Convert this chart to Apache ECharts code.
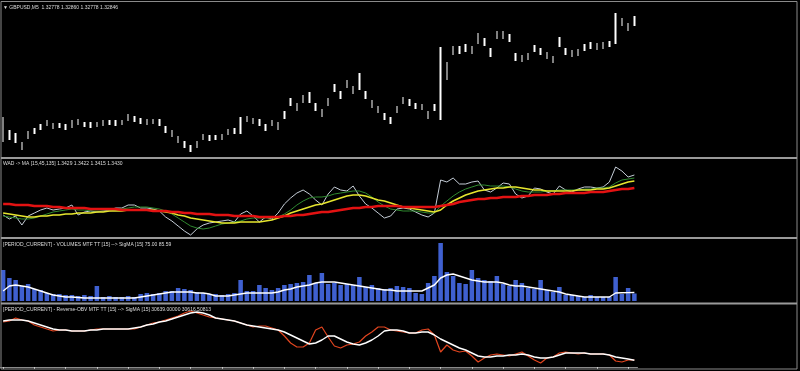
<!DOCTYPE html>
<html><head><meta charset="utf-8">
<script src="https://cdn.jsdelivr.net/npm/echarts/dist/echarts.min.js"></script>
<style>html,body{margin:0;padding:0;background:#000;}#c{width:800px;height:371px;}</style>
</head><body><div id="c"></div>
<script>
// ---- Pane 1: GBPUSD,M5 bars (high / low) ----
const priceHigh = [1.3091,1.3065,1.3059,1.3041,1.3063,1.3069,1.3077,1.3085,1.3079,1.3079,
 1.3077,1.3085,1.3087,1.3081,1.3081,1.3081,1.3085,1.3085,1.3085,1.3085,
 1.3097,1.3093,1.3089,1.3087,1.3087,1.3087,1.3073,1.3065,1.3053,1.3043,
 1.3035,1.3043,1.3057,1.3055,1.3055,1.3057,1.3067,1.3069,1.3091,1.3093,
 1.3089,1.3087,1.3077,1.3085,1.3081,1.3103,1.3129,1.3119,1.3135,1.3141,
 1.3119,1.3107,1.3129,1.3157,1.3143,1.3165,1.3153,1.3179,1.3143,1.3125,
 1.3113,1.3099,1.3091,1.3113,1.3131,1.3127,1.3119,1.3117,1.3103,1.3117,
 1.3231,1.3201,1.3233,1.3233,1.3237,1.3233,1.3259,1.3249,1.3229,1.3263,
 1.3263,1.3257,1.3219,1.3215,1.3219,1.3235,1.3229,1.3221,1.3213,1.3251,
 1.3229,1.3225,1.3227,1.3237,1.3241,1.3239,1.3241,1.3243,1.3299,1.3289,
 1.3279,1.3293];
const priceLow = [1.3041,1.3045,1.3039,1.3025,1.3047,1.3057,1.3065,1.3073,1.3067,1.3069,
 1.3065,1.3069,1.3075,1.3071,1.3069,1.3071,1.3073,1.3075,1.3073,1.3075,
 1.3083,1.3081,1.3077,1.3075,1.3077,1.3073,1.3059,1.3051,1.3039,1.3029,
 1.3021,1.3029,1.3045,1.3043,1.3045,1.3045,1.3055,1.3057,1.3057,1.3081,
 1.3077,1.3073,1.3063,1.3073,1.3065,1.3087,1.3113,1.3103,1.3119,1.3119,
 1.3103,1.3091,1.3113,1.3141,1.3127,1.3149,1.3137,1.3145,1.3127,1.3109,
 1.3099,1.3085,1.3077,1.3099,1.3117,1.3113,1.3107,1.3105,1.3087,1.3103,
 1.3085,1.3165,1.3215,1.3217,1.3221,1.3217,1.3237,1.3233,1.3211,1.3247,
 1.3247,1.3241,1.3203,1.3201,1.3205,1.3221,1.3215,1.3207,1.3199,1.3231,
 1.3215,1.3211,1.3213,1.3223,1.3227,1.3225,1.3227,1.3231,1.3237,1.3273,
 1.3263,1.3273];

// ---- Pane 2: WAD and its MAs (15, 45, 135) ----
const wad = [1.3389,1.3385,1.3388,1.3379,1.3388,1.3391,1.3394,1.3396,1.3394,1.3395,
 1.3396,1.3399,1.3389,1.3392,1.3393,1.3392,1.3393,1.3394,1.3396,1.3396,
 1.3399,1.3399,1.3396,1.3396,1.3395,1.3393,1.3387,1.3383,1.3378,1.3373,
 1.3369,1.3375,1.3379,1.3381,1.3382,1.3383,1.3384,1.3382,1.3390,1.3393,
 1.3388,1.3382,1.3387,1.3385,1.3391,1.3400,1.3406,1.3411,1.3414,1.3410,
 1.3404,1.3399,1.3410,1.3417,1.3414,1.3413,1.3418,1.3408,1.3400,1.3396,
 1.3391,1.3386,1.3388,1.3395,1.3396,1.3395,1.3392,1.3389,1.3387,1.3391,
 1.3424,1.3422,1.3426,1.3420,1.3420,1.3422,1.3423,1.3414,1.3412,1.3416,
 1.3421,1.3420,1.3410,1.3406,1.3408,1.3416,1.3415,1.3412,1.3410,1.3418,
 1.3414,1.3412,1.3415,1.3417,1.3417,1.3416,1.3417,1.3422,1.3437,1.3433,
 1.3427,1.3429];
const wadMa15 = [1.3388,1.3387,1.3386,1.3385,1.3385,1.3386,1.3388,1.3390,1.3392,1.3393,
 1.3394,1.3395,1.3394,1.3394,1.3393,1.3393,1.3393,1.3393,1.3394,1.3395,
 1.3396,1.3397,1.3397,1.3397,1.3396,1.3395,1.3393,1.3390,1.3386,1.3382,
 1.3378,1.3376,1.3375,1.3376,1.3378,1.3380,1.3381,1.3382,1.3383,1.3385,
 1.3386,1.3386,1.3386,1.3386,1.3387,1.3390,1.3394,1.3399,1.3403,1.3406,
 1.3407,1.3407,1.3408,1.3410,1.3411,1.3412,1.3413,1.3413,1.3411,1.3407,
 1.3402,1.3398,1.3395,1.3394,1.3393,1.3393,1.3393,1.3392,1.3391,1.3391,
 1.3398,1.3403,1.3408,1.3412,1.3415,1.3417,1.3419,1.3419,1.3418,1.3418,
 1.3418,1.3417,1.3415,1.3413,1.3412,1.3412,1.3412,1.3413,1.3413,1.3414,
 1.3414,1.3414,1.3414,1.3415,1.3415,1.3416,1.3416,1.3417,1.3421,1.3424,
 1.3425,1.3426];
const wadMa45 = [1.3391,1.3390,1.3389,1.3388,1.3387,1.3387,1.3388,1.3388,1.3389,1.3389,
 1.3390,1.3390,1.3391,1.3391,1.3391,1.3392,1.3392,1.3393,1.3393,1.3393,
 1.3394,1.3394,1.3394,1.3394,1.3394,1.3393,1.3392,1.3391,1.3389,1.3388,
 1.3386,1.3385,1.3384,1.3383,1.3382,1.3381,1.3381,1.3381,1.3382,1.3382,
 1.3382,1.3382,1.3383,1.3384,1.3386,1.3388,1.3391,1.3393,1.3395,1.3397,
 1.3399,1.3400,1.3402,1.3404,1.3406,1.3408,1.3409,1.3409,1.3408,1.3406,
 1.3404,1.3403,1.3401,1.3399,1.3397,1.3396,1.3395,1.3394,1.3393,1.3392,
 1.3394,1.3399,1.3403,1.3406,1.3409,1.3411,1.3413,1.3414,1.3415,1.3416,
 1.3416,1.3417,1.3417,1.3416,1.3415,1.3414,1.3414,1.3413,1.3413,1.3413,
 1.3413,1.3413,1.3414,1.3414,1.3414,1.3415,1.3415,1.3416,1.3418,1.3420,
 1.3422,1.3423];
const wadMa135 = [1.3400,1.3400,1.3399,1.3399,1.3399,1.3398,1.3398,1.3398,1.3397,1.3397,
 1.3396,1.3396,1.3396,1.3396,1.3395,1.3395,1.3395,1.3395,1.3395,1.3394,
 1.3394,1.3394,1.3394,1.3394,1.3393,1.3393,1.3393,1.3392,1.3392,1.3391,
 1.3391,1.3390,1.3390,1.3390,1.3389,1.3389,1.3389,1.3388,1.3388,1.3388,
 1.3388,1.3387,1.3387,1.3387,1.3387,1.3388,1.3388,1.3389,1.3389,1.3390,
 1.3391,1.3392,1.3392,1.3393,1.3394,1.3395,1.3396,1.3396,1.3397,1.3397,
 1.3398,1.3398,1.3398,1.3398,1.3397,1.3397,1.3397,1.3397,1.3397,1.3397,
 1.3398,1.3399,1.3400,1.3402,1.3403,1.3404,1.3405,1.3405,1.3406,1.3406,
 1.3407,1.3407,1.3407,1.3408,1.3408,1.3409,1.3409,1.3409,1.3410,1.3410,
 1.3411,1.3411,1.3411,1.3411,1.3412,1.3412,1.3412,1.3413,1.3414,1.3415,
 1.3415,1.3416];

// ---- Pane 3: Volumes and SigMA(15) ----
const volumes = [310,230,210,150,170,120,110,80,70,70,
 60,60,50,60,50,150,40,50,40,40,
 50,40,70,80,70,80,100,100,130,120,
 110,90,80,70,70,60,70,80,210,100,
 100,160,130,110,130,160,170,180,190,260,
 180,280,170,180,160,170,160,240,140,160,
 130,120,130,150,140,130,80,70,180,250,
 580,290,250,180,170,310,230,210,200,250,
 170,150,210,180,130,120,210,110,90,140,
 60,60,50,40,60,40,40,40,240,70,
 130,75];
const volumeMa = [100,150,160,150,140,120,100,80,60,50,
 40,40,35,30,30,30,30,30,30,30,
 30,30,40,50,60,70,80,90,90,90,
 90,80,80,70,50,50,50,60,70,80,
 80,80,80,80,90,110,120,140,150,160,
 180,190,190,190,180,170,160,150,140,130,
 120,110,110,100,100,100,100,100,130,160,
 230,260,270,250,230,210,200,190,190,190,
 180,160,150,150,140,130,120,110,100,90,
 70,60,50,40,40,40,40,40,80,82,
 84,85.59];

// ---- Pane 4: Reverse-OBV and SigMA(15) ----
const obv = [34439,34539,34839,34639,34539,34139,33939,33739,33539,33639,
 33639,33539,33539,33539,33639,33739,33739,33739,33739,33739,
 33739,33739,33939,34139,34339,34439,34639,34839,35039,35339,
 35539,35339,35139,34939,34839,34739,34639,34539,34339,34139,
 33939,34039,34039,33839,33639,33039,32339,31939,31939,32339,
 33639,33939,32939,32039,31839,32139,32239,32439,33039,33439,
 33939,33939,33639,33539,33439,33339,33339,33639,33739,33139,
 31439,32139,31639,31439,31539,31039,30439,30839,31139,31239,
 31139,31039,31239,31439,31039,30639,30339,30839,30939,31339,
 31439,31339,31239,31339,31239,31239,31239,31139,30539,30439,
 30639,30639];
const obvMa = [34539,34639,34639,34639,34539,34339,34139,33939,33739,33639,
 33639,33539,33539,33539,33639,33639,33739,33739,33739,33739,
 33739,33839,33939,34139,34239,34439,34539,34739,34939,35139,
 35339,35439,35339,35139,34839,34739,34639,34539,34339,34139,
 34039,33939,33839,33739,33639,33439,33139,32839,32539,32239,
 32339,32639,33039,33039,32739,32439,32239,32139,32339,32639,
 33039,33539,33639,33639,33539,33339,33339,33439,33439,33139,
 32739,32439,32139,31839,31639,31339,31039,30939,30939,31039,
 31039,31139,31139,31239,31139,30939,30839,30839,30939,31139,
 31339,31339,31339,31339,31239,31239,31239,31139,30939,30839,
 30739,30616.5];

const categories = priceHigh.map((_, i) => String(i));
const paneLabels = [
  '\u25BC GBPUSD,M5  1.32778 1.32860 1.32778 1.32846',
  'WAD -> MA [15,45,135] 1.3429 1.3422 1.3415 1.3430',
  '[PERIOD_CURRENT] - VOLUMES MTF TT [15] --> SigMA [15] 75.00 85.59',
  '[PERIOD_CURRENT] - Reverse-OBV MTF TT [15] --> SigMA [15] 30639.00000 30616.50813'
];

const panes = [
  {top: 4, height: 152, min: 1.3013, max: 1.3317},
  {top: 160, height: 76, min: 1.3368, max: 1.3444},
  {top: 240, height: 61, min: 0, max: 610},
  {top: 305, height: 62, min: 29939, max: 36139}
];
const labelY = [5, 161, 242, 307];

const chart = echarts.init(document.getElementById('c'), null, {renderer: 'canvas'});
const lineS = (data, idx, color, width, z) => ({
  type: 'line', data, xAxisIndex: idx, yAxisIndex: idx, symbol: 'none',
  lineStyle: {color, width}, z, animation: false, silent: true
});

const option = {
  backgroundColor: '#000000',
  animation: false,
  grid: panes.map(p => ({left: 0, width: 637.5, top: p.top, height: p.height, containLabel: false})),
  xAxis: panes.map((p, i) => ({
    type: 'category', gridIndex: i, data: categories, boundaryGap: true,
    show: i === 3,
    axisLine: {show: i === 3, lineStyle: {color: '#8a8a8a', width: 1}},
    axisTick: {show: i === 3, alignWithLabel: true, interval: 4, length: 2, lineStyle: {color: '#d0d0d0'}},
    axisLabel: {show: false}, splitLine: {show: false}
  })),
  yAxis: panes.map((p, i) => ({
    type: 'value', gridIndex: i, min: p.min, max: p.max, show: false, splitLine: {show: false}
  })),
  series: [
    {
      type: 'candlestick', xAxisIndex: 0, yAxisIndex: 0, barWidth: 2,
      data: priceLow.map((lo, i) => [lo, priceHigh[i], lo, priceHigh[i]]),
      itemStyle: {color: '#ffffff', color0: '#ffffff', borderColor: '#ffffff', borderColor0: '#ffffff', borderWidth: 0},
      silent: true
    },
    lineS(wad, 1, '#c4ccd6', 1, 2),
    lineS(wadMa15, 1, '#2f8a2f', 1, 3),
    lineS(wadMa45, 1, '#e6e62e', 1.6, 4),
    lineS(wadMa135, 1, '#e31212', 2.6, 5),
    {
      type: 'bar', xAxisIndex: 2, yAxisIndex: 2, data: volumes, barWidth: 4.5,
      itemStyle: {color: '#3f60d0'}, silent: true
    },
    lineS(volumeMa, 2, '#ffffff', 1.4, 6),
    lineS(obv, 3, '#e2451f', 1.2, 2),
    lineS(obvMa, 3, '#ffffff', 1.4, 3)
  ],
  graphic: [
    {type: 'rect', shape: {x: 1, y: 1.5, width: 796, height: 367.5}, style: {fill: 'none', stroke: '#8a8a8a', lineWidth: 1}, z: 100, silent: true},
    {type: 'line', shape: {x1: 1, y1: 158, x2: 797, y2: 158}, style: {stroke: '#9a9a9a', lineWidth: 2}, z: 100, silent: true},
    {type: 'line', shape: {x1: 1, y1: 238, x2: 797, y2: 238}, style: {stroke: '#9a9a9a', lineWidth: 2}, z: 100, silent: true},
    {type: 'line', shape: {x1: 1, y1: 303.5, x2: 797, y2: 303.5}, style: {stroke: '#9a9a9a', lineWidth: 2}, z: 100, silent: true}
  ].concat(paneLabels.map((t, i) => ({
    type: 'text', x: 3, y: labelY[i], z: 101, silent: true,
    style: {text: t, fill: '#dcdcdc', fontSize: 5, fontFamily: 'Liberation Sans, DejaVu Sans', verticalAlign: 'top', align: 'left'}
  })))
};
chart.setOption(option);
</script>
</body></html>
